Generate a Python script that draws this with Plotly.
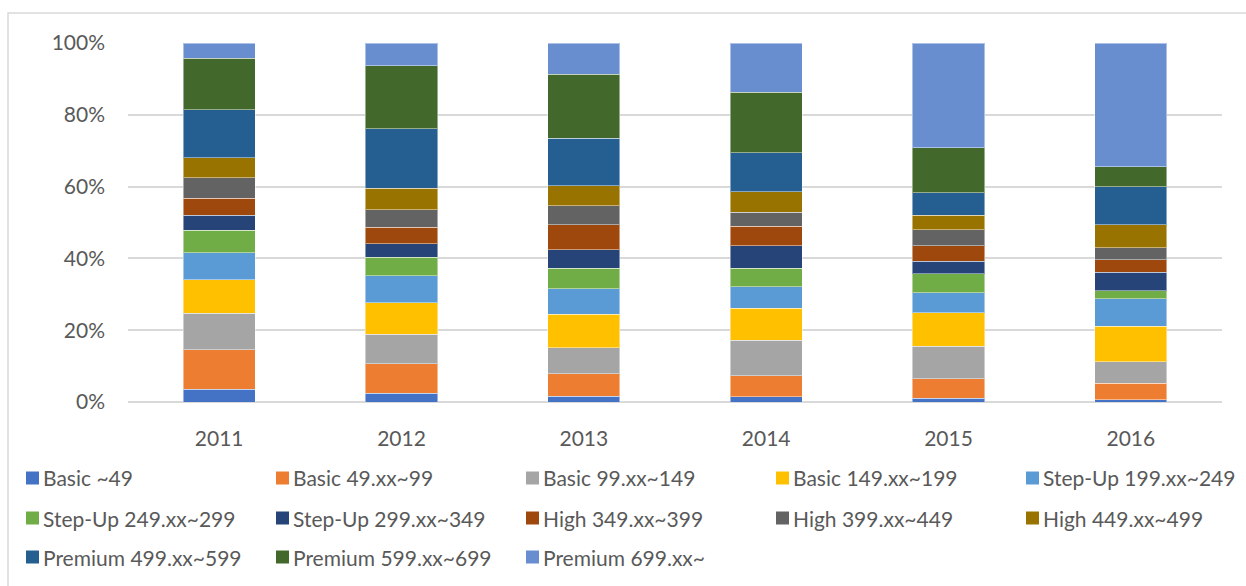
import plotly.graph_objects as go

# Share of models by price band, per year (percent of total)
years = ["2011", "2012", "2013", "2014", "2015", "2016"]

series_names = [
    "Basic ~49", "Basic 49.xx~99", "Basic 99.xx~149", "Basic 149.xx~199",
    "Step-Up 199.xx~249", "Step-Up 249.xx~299", "Step-Up 299.xx~349",
    "High 349.xx~399", "High 399.xx~449", "High 449.xx~499",
    "Premium 499.xx~599", "Premium 599.xx~699", "Premium 699.xx~",
]

basic_49 = [3.5, 2.5, 1.6, 1.5, 1.1, 0.6]
basic_99 = [11.1, 8.2, 6.3, 5.8, 5.4, 4.6]
basic_149 = [10.1, 8.2, 7.2, 9.9, 9.0, 6.0]
basic_199 = [9.3, 8.8, 9.3, 8.9, 9.3, 9.9]
stepup_249 = [7.6, 7.5, 7.2, 6.0, 5.7, 7.6]
stepup_299 = [6.2, 5.1, 5.7, 5.1, 5.2, 2.3]
stepup_349 = [4.2, 3.8, 5.1, 6.3, 3.5, 5.2]
high_399 = [4.7, 4.6, 7.0, 5.5, 4.3, 3.4]
high_449 = [5.8, 4.9, 5.2, 3.9, 4.5, 3.4]
high_499 = [5.5, 6.0, 5.7, 5.6, 4.0, 6.4]
premium_599 = [13.4, 16.5, 13.1, 10.9, 6.3, 10.6]
premium_699 = [14.3, 17.6, 17.9, 16.9, 12.5, 5.5]
premium_top = [4.3, 6.3, 8.7, 13.7, 29.2, 34.5]

series_values = [
    basic_49, basic_99, basic_149, basic_199,
    stepup_249, stepup_299, stepup_349,
    high_399, high_449, high_499,
    premium_599, premium_699, premium_top,
]

y_tick_values = [0, 20, 40, 60, 80, 100]
y_tick_labels = ["0%", "20%", "40%", "60%", "80%", "100%"]

colors = [
    "#4472C4", "#ED7D31", "#A5A5A5", "#FFC000", "#5B9BD5", "#70AD47",
    "#264478", "#9E480E", "#636363", "#997300", "#255E91", "#43682B",
    "#698ED0",
]

W, H = 1246, 586
L, R, T, B = 128, 24, 43, 184
PW, PH = W - L - R, H - T - B

FONT = "Lato"
FS = 21
TXT = "#595959"


def px_x(px):
    return (px - L) / PW


def px_y(py):
    return (H - B - py) / PH


fig = go.Figure()
for name, vals, col in zip(series_names, series_values, colors):
    fig.add_trace(go.Bar(
        x=years, y=vals, name=name,
        marker=dict(color=col, line=dict(color="rgba(255,255,255,0.45)", width=1)),
        showlegend=False,
    ))

# Legend: five columns, three rows below the axis
shapes = []
annotations = []
col_x = [26, 276, 526, 776, 1026]
row_y = [478, 518, 557]
sw = 13
for i, (name, col) in enumerate(zip(series_names, colors)):
    cx = col_x[i % 5]
    cy = row_y[i // 5]
    shapes.append(dict(
        type="rect", xref="paper", yref="paper",
        x0=px_x(cx), x1=px_x(cx + sw), y0=px_y(cy + sw / 2), y1=px_y(cy - sw / 2),
        fillcolor=col, line=dict(width=0),
    ))
    annotations.append(dict(
        xref="paper", yref="paper", x=px_x(cx + sw + 2), y=px_y(cy),
        xanchor="left", yanchor="middle", showarrow=False, text=name,
        font=dict(family=FONT, size=FS, color=TXT),
    ))

# Chart area frame
shapes.append(dict(
    type="rect", xref="paper", yref="paper", layer="below",
    x0=px_x(8), x1=px_x(W + 20), y0=px_y(H + 20), y1=px_y(13),
    line=dict(color="#D9D9D9", width=1.5), fillcolor="rgba(0,0,0,0)",
))

fig.update_layout(
    width=W, height=H,
    barmode="stack", barnorm="percent", bargap=0.605,
    margin=dict(l=L, r=R, t=T, b=B, pad=0),
    paper_bgcolor="white", plot_bgcolor="white",
    font=dict(family=FONT, size=FS, color=TXT),
    shapes=shapes, annotations=annotations,
    xaxis=dict(
        showgrid=False, showline=False, ticks="",
        tickfont=dict(family=FONT, size=FS, color=TXT),
        ticklabelstandoff=22,
    ),
    yaxis=dict(
        range=[0, 100], tickmode="array",
        tickvals=y_tick_values, ticktext=y_tick_labels,
        showgrid=True, gridcolor="#D9D9D9", gridwidth=1.5,
        zeroline=True, zerolinecolor="#D9D9D9", zerolinewidth=1.5,
        showline=False, ticks="",
        tickfont=dict(family=FONT, size=FS, color=TXT),
        ticklabelstandoff=22,
    ),
)

fig.write_html("out.html")
